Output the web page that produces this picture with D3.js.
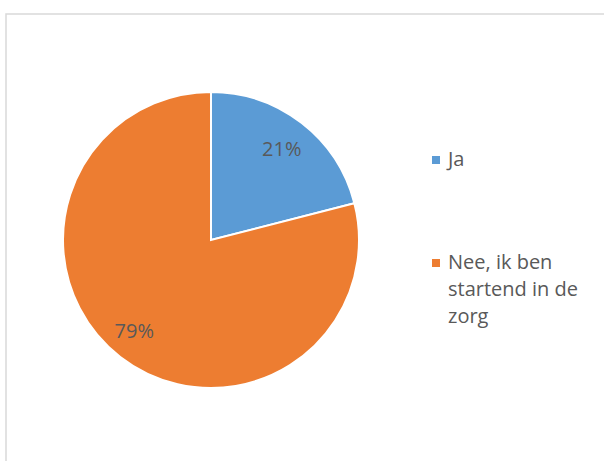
<!DOCTYPE html>
<html>
<head>
<meta charset="utf-8">
<script src="https://cdn.jsdelivr.net/npm/d3@7"></script>
<style>
  body { margin: 0; background: #fff; }
  text { font-family: "Open Sans", Lato, sans-serif; fill: #595959; }
</style>
</head>
<body>
<div id="chart"></div>
<script>
// data
var categories = ['Ja', 'Nee, ik ben startend in de zorg'];
var values = [21, 79];
var colors = ['#5B9BD5', '#ED7D31'];
// legend lines, wrapped like the original
var legend_lines = [['Ja'], ['Nee, ik ben', 'startend in de', 'zorg']];

var width = 604, height = 461;
var cx = 211, cy = 240, radius = 148;

var svg = d3.select('#chart').append('svg')
    .attr('width', width).attr('height', height);

// chart frame
svg.append('rect')
    .attr('x', 6).attr('y', 14)
    .attr('width', 620).attr('height', 470)
    .attr('fill', 'none').attr('stroke', '#d9d9d9').attr('stroke-width', 1.5);

var pie = d3.pie().sort(null).value(function(d) { return d; });
var arcs = pie(values);
var arc = d3.arc().innerRadius(0).outerRadius(radius);
var label_arc = d3.arc().innerRadius(radius * 0.78).outerRadius(radius * 0.78);

var pie_group = svg.append('g').attr('transform', 'translate(' + cx + ',' + cy + ')');

pie_group.selectAll('path')
    .data(arcs).enter().append('path')
    .attr('d', arc)
    .attr('fill', function(d, i) { return colors[i]; })
    .attr('stroke', '#fff').attr('stroke-width', 2);

// percent labels
pie_group.selectAll('text.pct')
    .data(arcs).enter().append('text')
    .attr('class', 'pct')
    .attr('text-anchor', 'middle')
    .attr('dy', '0.35em')
    .attr('font-size', '20px')
    .attr('transform', function(d) {
        var c = label_arc.centroid(d);
        return 'translate(' + (c[0] - (d.index == 1 ? 6 : 0)) + ',' + c[1] + ')';
    })
    .text(function(d) { return d.data + '%'; });

// legend
var legend_y = [160, 263];
var legend = svg.selectAll('g.legend')
    .data(categories).enter().append('g')
    .attr('class', 'legend')
    .attr('transform', function(d, i) { return 'translate(432,' + legend_y[i] + ')'; });

legend.append('rect')
    .attr('x', 0).attr('y', -4)
    .attr('width', 8).attr('height', 8)
    .attr('fill', function(d, i) { return colors[i]; });

legend.append('text')
    .attr('x', 16).attr('y', 0)
    .attr('font-size', '20px')
    .each(function(d, i) {
        var t = d3.select(this);
        legend_lines[i].forEach(function(line, j) {
            t.append('tspan').attr('x', 16).attr('y', 6 + j * 27).text(line);
        });
    });
</script>
</body>
</html>
